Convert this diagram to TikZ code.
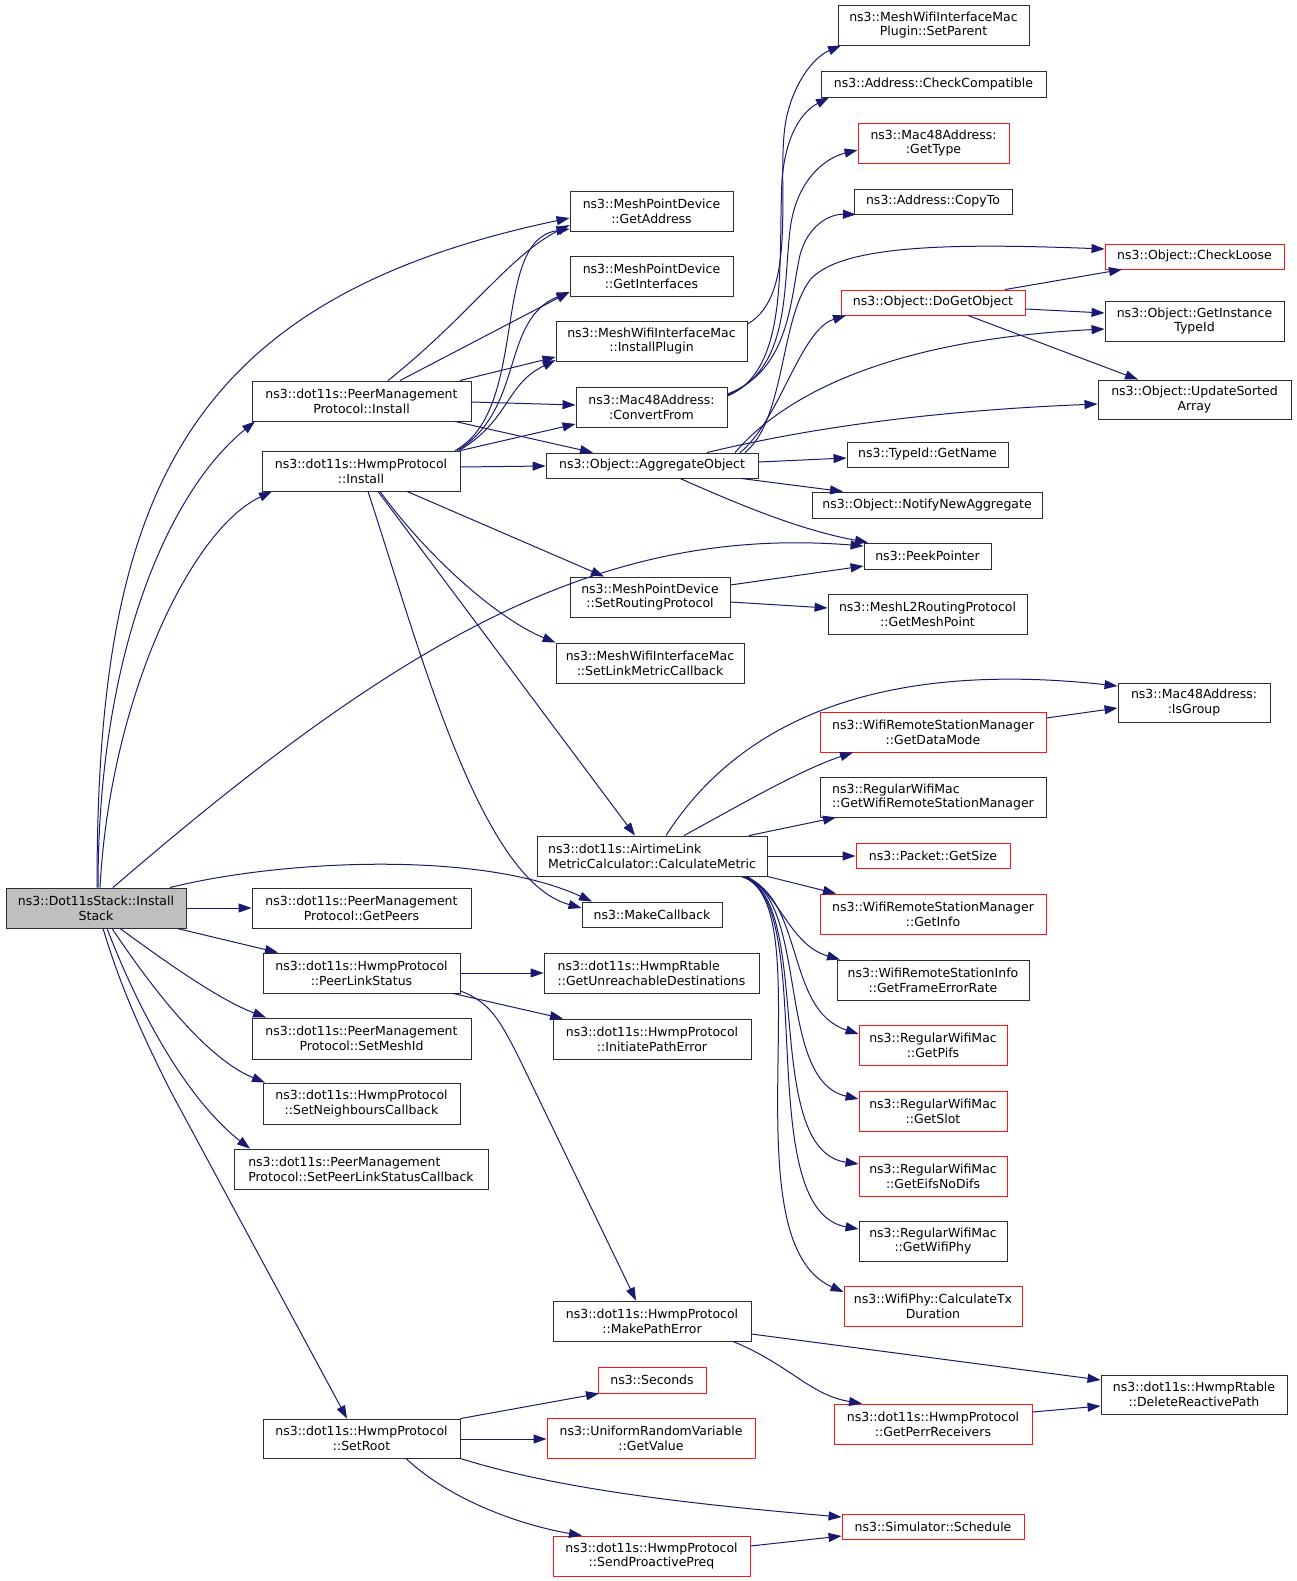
\documentclass[tikz,border=0pt]{standalone}
\usepackage{fontspec}
\setmainfont{DejaVu Sans}
\usetikzlibrary{arrows.meta}
\definecolor{edgec}{RGB}{25,25,112}
\definecolor{redb}{RGB}{255,20,20}
\definecolor{bordc}{RGB}{45,45,45}
\definecolor{grayf}{RGB}{191,191,191}
\newcommand\nd[7]{\node[#2, minimum width={(#5-#3)*1pt}, minimum height={(#6-#4)*1pt}] (#1) at ({(#3+#5)/2},{(#4+#6)/2}) {#7};}
\begin{document}
\begin{tikzpicture}[x=1pt,y=-1pt,
  box/.style={draw=bordc, line width=0.9pt, inner sep=0pt, align=center, font=\fontsize{12.5}{14.7}\selectfont},
  lbox/.style={box, align=left},
  rbox/.style={box, draw=redb},
  gbox/.style={box, fill=grayf},
  e/.style={draw=edgec, line width=1pt, -{Triangle[length=13pt,width=9pt]}}]
\useasboundingbox (0,0) rectangle (1296,1581);
% nodes
\nd{IS}{gbox}{6}{888}{186}{928}{ns3::Dot11sStack::Install\\Stack}
\nd{PMI}{box}{252}{381}{471}{421}{ns3::dot11s::PeerManagement\\Protocol::Install}
\nd{HI}{box}{262}{451}{460}{491}{ns3::dot11s::HwmpProtocol\\::Install}
\nd{GP}{box}{252}{888}{471}{928}{ns3::dot11s::PeerManagement\\Protocol::GetPeers}
\nd{PLS}{box}{263}{953}{460}{993}{ns3::dot11s::HwmpProtocol\\::PeerLinkStatus}
\nd{SMI}{box}{252}{1018}{471}{1059}{ns3::dot11s::PeerManagement\\Protocol::SetMeshId}
\nd{SNC}{box}{263}{1083}{460}{1124}{ns3::dot11s::HwmpProtocol\\::SetNeighboursCallback}
\nd{SPLSC}{lbox}{234}{1149}{488}{1189}{ns3::dot11s::PeerManagement\\Protocol::SetPeerLinkStatusCallback}
\nd{SR}{box}{263}{1419}{460}{1458}{ns3::dot11s::HwmpProtocol\\::SetRoot}
\nd{GA}{box}{570}{191}{733}{231}{ns3::MeshPointDevice\\::GetAddress}
\nd{GI}{box}{570}{256}{733}{296}{ns3::MeshPointDevice\\::GetInterfaces}
\nd{IP}{box}{556}{321}{747}{361}{ns3::MeshWifiInterfaceMac\\::InstallPlugin}
\nd{CF}{box}{576}{387}{727}{427}{ns3::Mac48Address:\\:ConvertFrom}
\nd{AO}{box}{546}{453}{758}{478}{ns3::Object::AggregateObject}
\nd{SRP}{box}{570}{577}{730}{617}{ns3::MeshPointDevice\\::SetRoutingProtocol}
\nd{SLMC}{box}{556}{643}{744}{683}{ns3::MeshWifiInterfaceMac\\::SetLinkMetricCallback}
\nd{CM}{lbox}{537}{836}{767}{876}{ns3::dot11s::AirtimeLink\\MetricCalculator::CalculateMetric}
\nd{MC}{box}{582}{902}{722}{927}{ns3::MakeCallback}
\nd{GUD}{lbox}{544}{953}{759}{993}{ns3::dot11s::HwmpRtable\\::GetUnreachableDestinations}
\nd{IPE}{box}{553}{1019}{751}{1059}{ns3::dot11s::HwmpProtocol\\::InitiatePathError}
\nd{MPE}{box}{553}{1301}{751}{1341}{ns3::dot11s::HwmpProtocol\\::MakePathError}
\nd{SEC}{rbox}{598}{1367}{706}{1393}{ns3::Seconds}
\nd{URV}{rbox}{547}{1418}{755}{1458}{ns3::UniformRandomVariable\\::GetValue}
\nd{SPP}{rbox}{553}{1536}{750}{1576}{ns3::dot11s::HwmpProtocol\\::SendProactivePreq}
\nd{SP}{box}{838}{5}{1029}{45}{ns3::MeshWifiInterfaceMac\\Plugin::SetParent}
\nd{CC}{box}{821}{71}{1046}{97}{ns3::Address::CheckCompatible}
\nd{GT}{rbox}{858}{123}{1009}{163}{ns3::Mac48Address:\\:GetType}
\nd{CT}{box}{854}{189}{1012}{214}{ns3::Address::CopyTo}
\nd{CL}{rbox}{1105}{244}{1284}{269}{ns3::Object::CheckLoose}
\nd{DGO}{rbox}{841}{290}{1025}{315}{ns3::Object::DoGetObject}
\nd{GIT}{box}{1105}{301}{1284}{341}{ns3::Object::GetInstance\\TypeId}
\nd{USA}{box}{1098}{380}{1291}{419}{ns3::Object::UpdateSorted\\Array}
\nd{GN}{box}{847}{442}{1008}{467}{ns3::TypeId::GetName}
\nd{NNA}{box}{812}{492}{1042}{518}{ns3::Object::NotifyNewAggregate}
\nd{PP}{box}{864}{543}{991}{569}{ns3::PeekPointer}
\nd{GMP}{box}{828}{594}{1027}{634}{ns3::MeshL2RoutingProtocol\\::GetMeshPoint}
\nd{IG}{box}{1118}{683}{1270}{722}{ns3::Mac48Address:\\:IsGroup}
\nd{GDM}{rbox}{820}{712}{1046}{752}{ns3::WifiRemoteStationManager\\::GetDataMode}
\nd{GWRSM}{lbox}{820}{777}{1046}{817}{ns3::RegularWifiMac\\::GetWifiRemoteStationManager}
\nd{GS}{rbox}{856}{843}{1010}{868}{ns3::Packet::GetSize}
\nd{GINF}{rbox}{820}{894}{1046}{934}{ns3::WifiRemoteStationManager\\::GetInfo}
\nd{GFER}{box}{837}{960}{1029}{1000}{ns3::WifiRemoteStationInfo\\::GetFrameErrorRate}
\nd{GPF}{rbox}{859}{1025}{1007}{1065}{ns3::RegularWifiMac\\::GetPifs}
\nd{GSL}{rbox}{859}{1091}{1007}{1131}{ns3::RegularWifiMac\\::GetSlot}
\nd{GED}{rbox}{859}{1156}{1007}{1196}{ns3::RegularWifiMac\\::GetEifsNoDifs}
\nd{GWP}{box}{859}{1221}{1007}{1261}{ns3::RegularWifiMac\\::GetWifiPhy}
\nd{CTD}{rbox}{844}{1286}{1022}{1326}{ns3::WifiPhy::CalculateTx\\Duration}
\nd{DRP}{box}{1101}{1375}{1287}{1414}{ns3::dot11s::HwmpRtable\\::DeleteReactivePath}
\nd{GPR}{rbox}{834}{1404}{1032}{1444}{ns3::dot11s::HwmpProtocol\\::GetPerrReceivers}
\nd{SCH}{rbox}{842}{1514}{1024}{1539}{ns3::Simulator::Schedule}
% edges from InstallStack
\draw[e] (97,0 |- IS.north) .. controls (97,500) and (180,300) .. (GA.west |- 0,218);
\draw[e] (98,0 |- IS.north) .. controls (98,650) and (170,490) .. (255,0 |- PMI.south);
\draw[e] (100,0 |- IS.north) .. controls (110,700) and (190,530) .. (272,0 |- HI.south);
\draw[e] (113,0 |- IS.north) .. controls (400,640) and (600,525) .. (PP.west |- 0,546);
\draw[e] (170,0 |- IS.north) .. controls (280,860) and (480,850) .. (592,0 |- MC.north);
\draw[e] (IS.east |- 0,908) -- (GP.west |- 0,908);
\draw[e] (177,0 |- IS.south) -- (278,0 |- PLS.north);
\draw[e] (120,0 |- IS.south) .. controls (170,965) and (220,1000) .. (266,0 |- SMI.north);
\draw[e] (112,0 |- IS.south) .. controls (160,1000) and (210,1060) .. (265,0 |- SNC.north);
\draw[e] (107,0 |- IS.south) .. controls (150,1040) and (200,1110) .. (250,0 |- SPLSC.north);
\draw[e] (103,0 |- IS.south) .. controls (120,985) and (140,1030) .. (170,1090) -- (347,0 |- SR.north);
% PeerManagement Install
\draw[e] (388,0 |- PMI.north) .. controls (470,315) and (510,255) .. (GA.west |- 0,225);
\draw[e] (400,0 |- PMI.north) -- (GI.west |- 0,292);
\draw[e] (460,0 |- PMI.north) -- (IP.west |- 0,357);
\draw[e] (PMI.east |- 0,402) -- (CF.west |- 0,405);
\draw[e] (455,0 |- PMI.south) -- (593,0 |- AO.north);
% Hwmp Install
\draw[e] (455,0 |- HI.north) .. controls (530,410) and (490,240) .. (GA.west |- 0,229);
\draw[e] (457,0 |- HI.north) .. controls (525,410) and (500,320) .. (GI.west |- 0,292);
\draw[e] (459,0 |- HI.north) .. controls (510,420) and (505,385) .. (IP.west |- 0,360);
\draw[e] (HI.north east) -- (CF.west |- 0,424);
\draw[e] (HI.east |- 0,467) -- (AO.west |- 0,466);
\draw[e] (407,0 |- HI.south) -- (604,0 |- SRP.north);
\draw[e] (380,0 |- HI.south) .. controls (430,560) and (500,620) .. (SLMC.north west);
\draw[e] (378,0 |- HI.south) -- (635,0 |- CM.north);
\draw[e] (368,0 |- HI.south) .. controls (420,650) and (480,880) .. (MC.west |- 0,908);
% InstallPlugin, ConvertFrom
\draw[e] (IP.east |- 0,324) .. controls (800,295) and (775,180) .. (786,120) .. controls (793,85) and (812,58) .. (841,0 |- SP.south);
\draw[e] (CF.east |- 0,396) .. controls (790,370) and (778,260) .. (782,180) .. controls (786,130) and (805,110) .. (829,0 |- CC.south);
\draw[e] (CF.east |- 0,395) .. controls (790,370) and (783,290) .. (790,230) .. controls (796,180) and (825,158) .. (GT.west |- 0,150);
\draw[e] (CF.east |- 0,394) .. controls (790,370) and (790,300) .. (800,255) .. controls (808,225) and (830,214) .. (856,0 |- CT.south);
% AggregateObject
\draw[e] (745,0 |- AO.north) .. controls (785,420) and (780,320) .. (810,280) .. controls (840,245) and (950,243) .. (CL.west |- 0,249);
\draw[e] (740,0 |- AO.north) .. controls (780,420) and (800,330) .. (846,0 |- DGO.south);
\draw[e] (735,0 |- AO.north) .. controls (780,400) and (880,340) .. (GIT.west |- 0,329);
\draw[e] (707,0 |- AO.north) .. controls (780,435) and (900,412) .. (USA.west |- 0,404);
\draw[e] (AO.east |- 0,462) -- (GN.west |- 0,458);
\draw[e] (741,0 |- AO.south) -- (843,0 |- NNA.north);
\draw[e] (680,0 |- AO.south) .. controls (740,505) and (800,530) .. (868,0 |- PP.north);
% DoGetObject
\draw[e] (1005,0 |- DGO.north) -- (1122,0 |- CL.south);
\draw[e] (DGO.east |- 0,309) -- (GIT.west |- 0,313);
\draw[e] (968,0 |- DGO.south) -- (1138,0 |- USA.north);
% SetRoutingProtocol
\draw[e] (SRP.east |- 0,585) -- (PP.west |- 0,566);
\draw[e] (SRP.east |- 0,602) -- (GMP.west |- 0,608);
% CalculateMetric
\draw[e] (666,0 |- CM.north) .. controls (740,720) and (880,660) .. (IG.west |- 0,686);
\draw[e] (684,0 |- CM.north) .. controls (740,805) and (800,770) .. (853,0 |- GDM.south);
\draw[e] (749,0 |- CM.north) -- (836,0 |- GWRSM.south);
\draw[e] (CM.east |- 0,856) -- (GS.west |- 0,856);
\draw[e] (CM.south east) -- (836,0 |- GINF.north);
\draw[e] (747,0 |- CM.south) .. controls (780,895) and (790,945) .. (840,0 |- GFER.north);
\draw[e] (745,0 |- CM.south) .. controls (805,900) and (785,1010) .. (GPF.west |- 0,1034);
\draw[e] (744,0 |- CM.south) .. controls (810,900) and (775,1080) .. (GSL.west |- 0,1099);
\draw[e] (743,0 |- CM.south) .. controls (815,900) and (760,1150) .. (GED.west |- 0,1164);
\draw[e] (742,0 |- CM.south) .. controls (820,900) and (750,1210) .. (GWP.west |- 0,1229);
\draw[e] (741,0 |- CM.south) .. controls (825,900) and (725,1240) .. (CTD.west |- 0,1292);
\draw[e] (GDM.east |- 0,718) -- (IG.west |- 0,708);
% PeerLinkStatus
\draw[e] (PLS.east |- 0,973) -- (GUD.west |- 0,973);
\draw[e] (453,0 |- PLS.south) -- (563,0 |- IPE.north);
\draw[e] (PLS.east |- 0,991) .. controls (490,1002) and (500,1020) .. (520,1060) -- (636,0 |- MPE.north);
% MakePathError
\draw[e] (MPE.east |- 0,1334) -- (DRP.west |- 0,1380);
\draw[e] (733,0 |- MPE.south) .. controls (790,1365) and (810,1395) .. (862,0 |- GPR.north);
\draw[e] (GPR.east |- 0,1412) -- (DRP.west |- 0,1406);
% SetRoot
\draw[e] (SR.north east) -- (599,0 |- SEC.south);
\draw[e] (SR.east |- 0,1439) -- (URV.west |- 0,1439);
\draw[e] (SR.south east) .. controls (560,1490) and (700,1505) .. (SCH.west |- 0,1517);
\draw[e] (406,0 |- SR.south) .. controls (450,1500) and (520,1525) .. (582,0 |- SPP.north);
\draw[e] (SPP.east |- 0,1546) -- (SCH.west |- 0,1536);
\end{tikzpicture}
\end{document}
